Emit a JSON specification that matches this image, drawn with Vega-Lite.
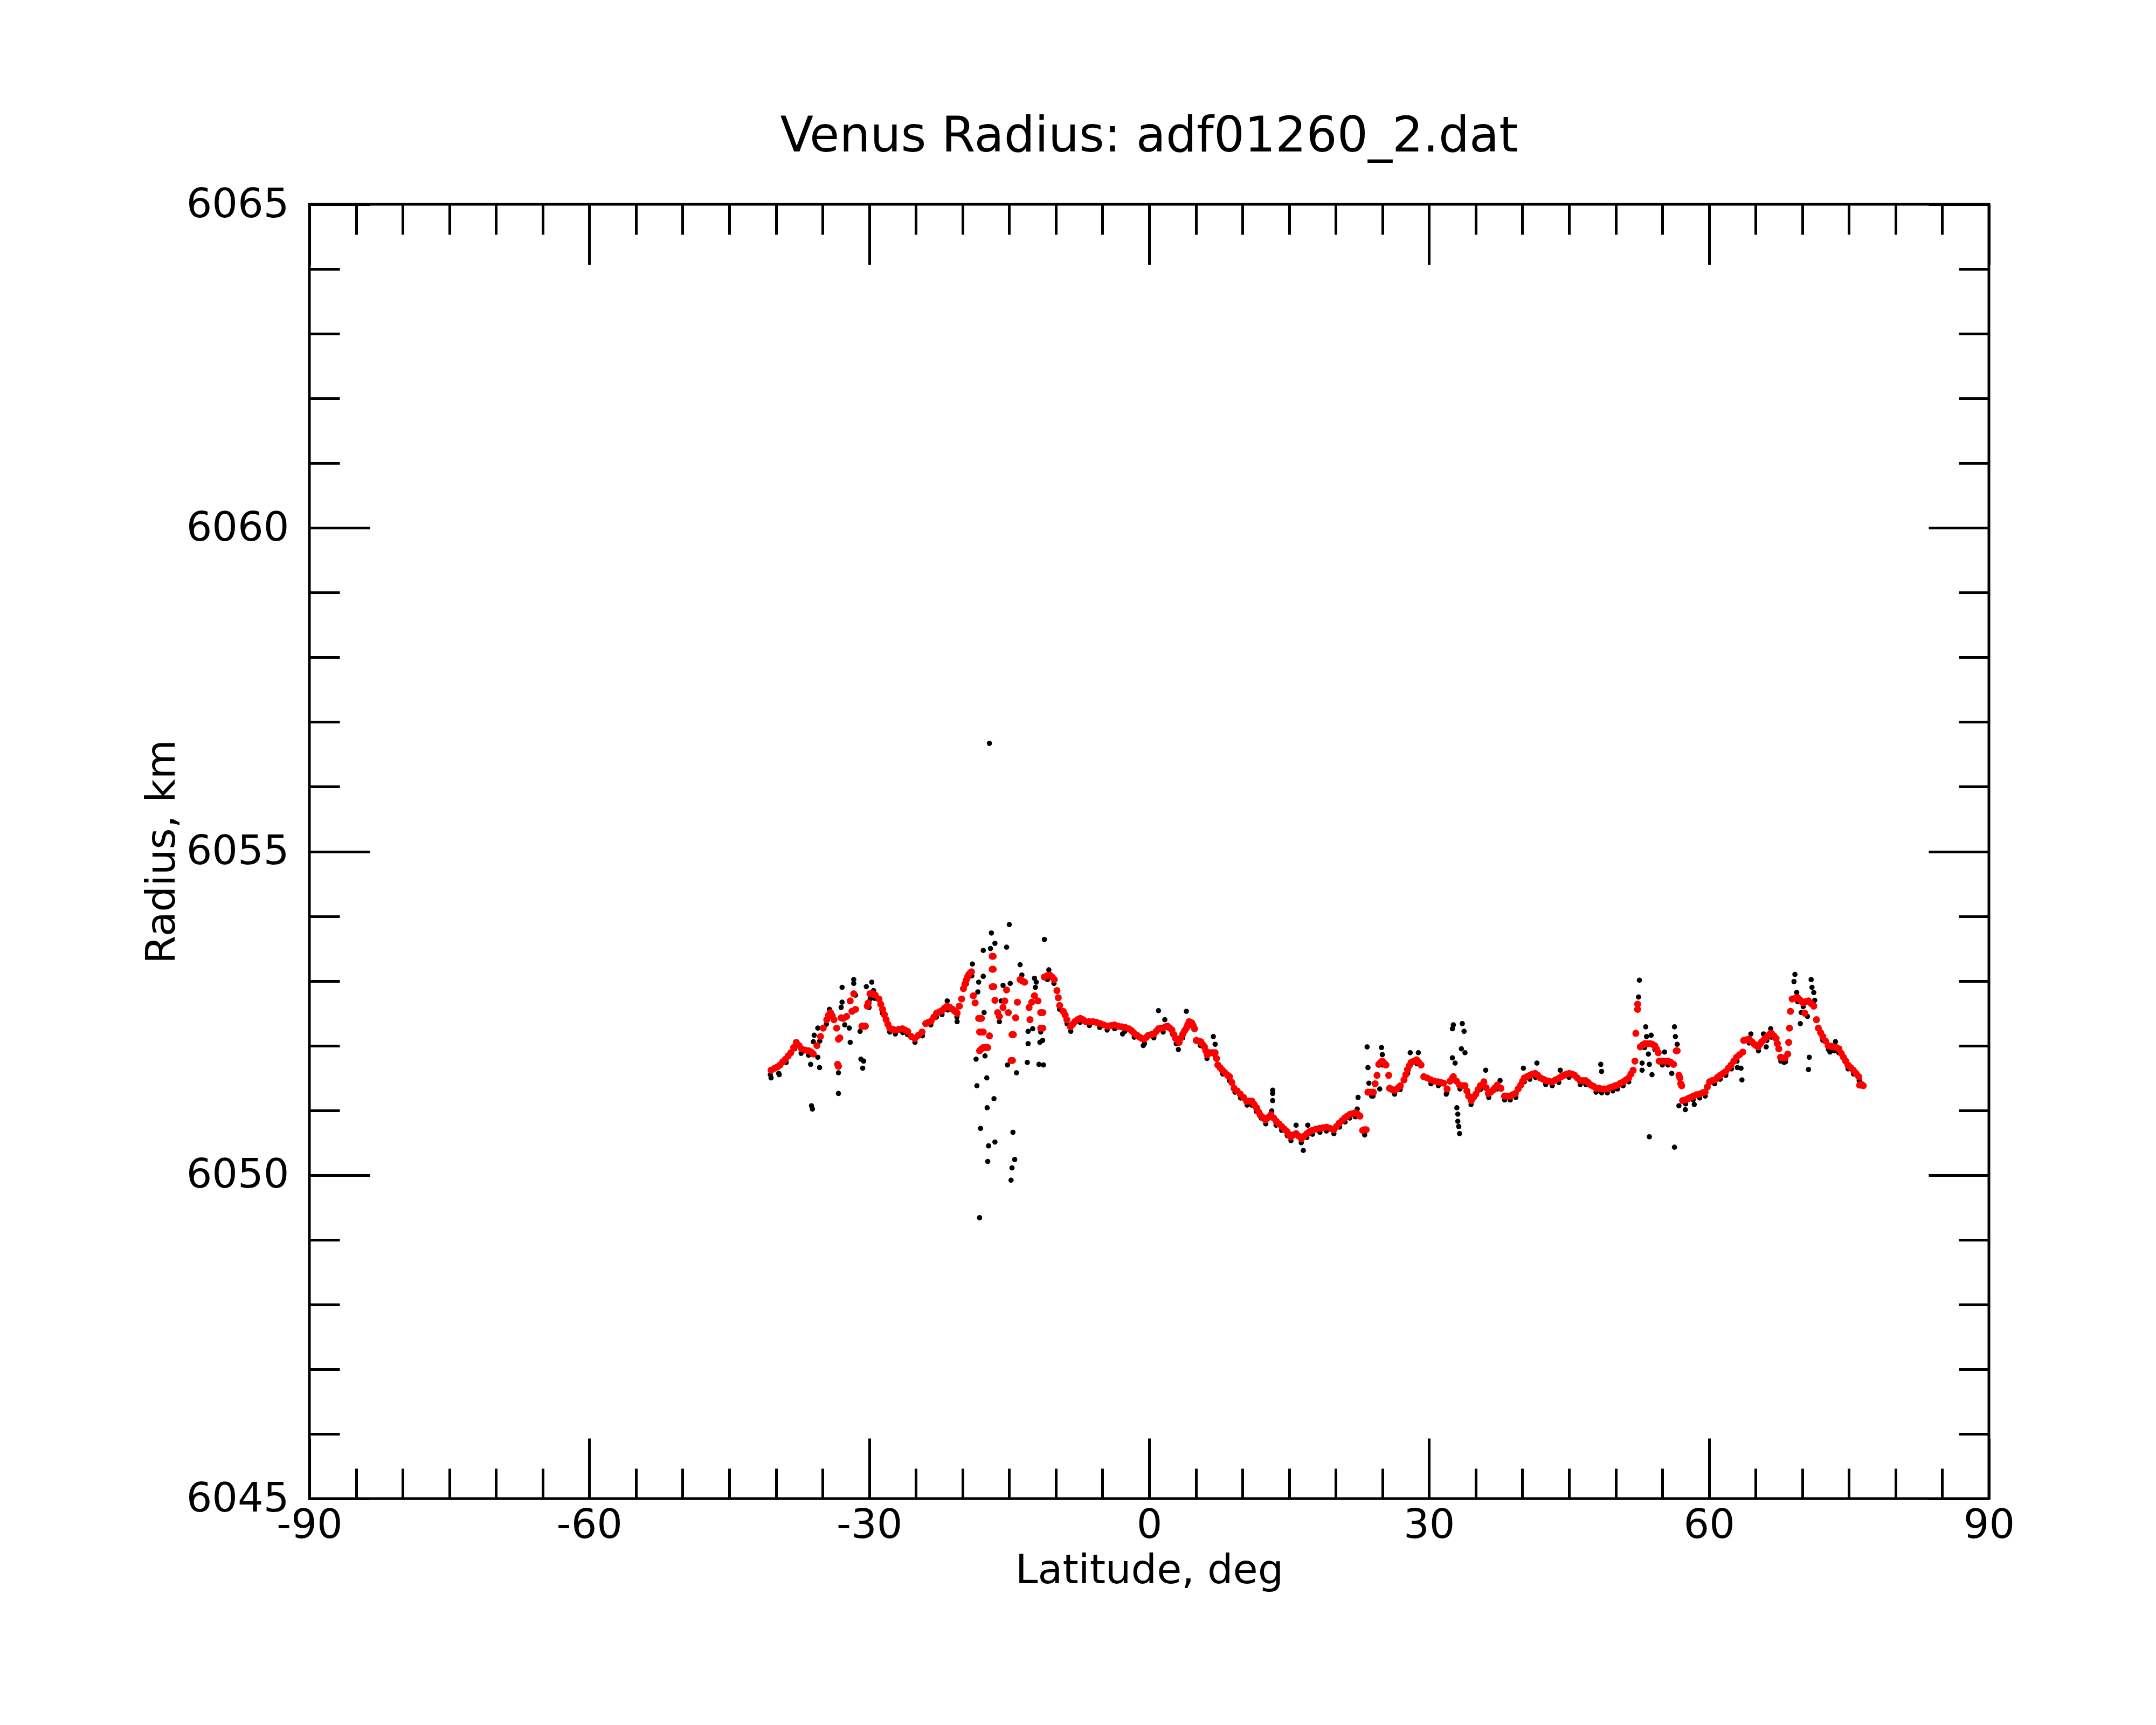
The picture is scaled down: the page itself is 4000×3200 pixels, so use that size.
{
"$schema": "https://vega.github.io/schema/vega-lite/v6.json",
"width": 3116,
"height": 2401,
"autosize": {"type": "none"},
"padding": {"left": 574, "top": 379, "right": 310, "bottom": 420},
"background": "white",
"title": {"text": "Venus Radius: adf01260_2.dat", "fontSize": 90, "font": "DejaVu Sans", "fontWeight": "normal", "color": "black", "offset": 42, "anchor": "middle"},
"config": {"view": {"stroke": "black", "strokeWidth": 5}},
"datasets": {
"red": [
{"lat":-40.52,"r":6051.62},{"lat":-40.14,"r":6051.65},{"lat":-39.85,"r":6051.67},{"lat":-39.56,"r":6051.7},{"lat":-39.27,"r":6051.75},{"lat":-38.98,"r":6051.79},{"lat":-38.69,"r":6051.84},{"lat":-38.4,"r":6051.89},{"lat":-38.1,"r":6051.97},{"lat":-37.82,"r":6052.05},{"lat":-37.53,"r":6052.0},{"lat":-37.25,"r":6051.95},{"lat":-36.86,"r":6051.93},{"lat":-36.48,"r":6051.92},{"lat":-36.2,"r":6051.9},{"lat":-35.99,"r":6051.87},{"lat":-35.61,"r":6052.0},{"lat":-35.22,"r":6052.14},{"lat":-34.93,"r":6052.27},{"lat":-34.55,"r":6052.4},{"lat":-34.35,"r":6052.47},{"lat":-34.16,"r":6052.51},{"lat":-33.97,"r":6052.46},{"lat":-33.78,"r":6052.4},{"lat":-33.49,"r":6052.27},{"lat":-33.3,"r":6052.1},{"lat":-33.15,"r":6052.12},{"lat":-33.39,"r":6051.71},{"lat":-33.3,"r":6051.68},{"lat":-33.0,"r":6052.43},{"lat":-32.8,"r":6052.42},{"lat":-32.43,"r":6052.45},{"lat":-32.04,"r":6052.69},{"lat":-31.85,"r":6052.53},{"lat":-31.66,"r":6052.8},{"lat":-31.47,"r":6052.56},{"lat":-30.79,"r":6052.3},{"lat":-30.6,"r":6052.3},{"lat":-30.41,"r":6052.3},{"lat":-30.21,"r":6052.61},{"lat":-30.1,"r":6052.66},{"lat":-29.92,"r":6052.8},{"lat":-29.63,"r":6052.8},{"lat":-29.35,"r":6052.78},{"lat":-28.96,"r":6052.72},{"lat":-28.77,"r":6052.64},{"lat":-28.57,"r":6052.56},{"lat":-28.38,"r":6052.48},{"lat":-28.19,"r":6052.4},{"lat":-28.0,"r":6052.33},{"lat":-27.8,"r":6052.27},{"lat":-27.5,"r":6052.25},{"lat":-27.23,"r":6052.24},{"lat":-26.84,"r":6052.25},{"lat":-26.45,"r":6052.26},{"lat":-26.16,"r":6052.24},{"lat":-25.88,"r":6052.22},{"lat":-25.49,"r":6052.14},{"lat":-25.11,"r":6052.11},{"lat":-24.72,"r":6052.16},{"lat":-24.34,"r":6052.21},{"lat":-23.95,"r":6052.34},{"lat":-23.66,"r":6052.36},{"lat":-23.37,"r":6052.38},{"lat":-23.08,"r":6052.44},{"lat":-22.79,"r":6052.5},{"lat":-22.5,"r":6052.52},{"lat":-22.22,"r":6052.54},{"lat":-21.93,"r":6052.58},{"lat":-21.64,"r":6052.61},{"lat":-21.35,"r":6052.59},{"lat":-21.06,"r":6052.56},{"lat":-20.8,"r":6052.53},{"lat":-20.58,"r":6052.5},{"lat":-20.34,"r":6052.61},{"lat":-20.1,"r":6052.72},{"lat":-19.9,"r":6052.88},{"lat":-19.75,"r":6052.95},{"lat":-19.61,"r":6053.01},{"lat":-19.46,"r":6053.06},{"lat":-19.32,"r":6053.1},{"lat":-19.15,"r":6053.13},{"lat":-19.04,"r":6053.14},
{"lat":-18.84,"r":6052.77},{"lat":-18.65,"r":6052.66},{"lat":-18.27,"r":6052.42},{"lat":-18.1,"r":6052.42},{"lat":-17.98,"r":6052.42},{"lat":-18.17,"r":6052.21},{"lat":-17.98,"r":6052.21},{"lat":-17.78,"r":6052.21},{"lat":-18.17,"r":6051.92},{"lat":-17.98,"r":6051.95},{"lat":-17.78,"r":6051.97},{"lat":-17.55,"r":6051.97},{"lat":-17.3,"r":6051.97},{"lat":-17.11,"r":6052.15},{"lat":-16.82,"r":6053.38},{"lat":-16.72,"r":6053.38},{"lat":-16.82,"r":6053.18},{"lat":-16.72,"r":6053.18},{"lat":-16.82,"r":6052.91},{"lat":-16.65,"r":6052.91},{"lat":-16.53,"r":6052.7},{"lat":-16.24,"r":6052.51},{"lat":-16.05,"r":6052.45},{"lat":-15.66,"r":6052.59},{"lat":-15.47,"r":6052.69},{"lat":-15.28,"r":6052.86},{"lat":-15.09,"r":6052.51},{"lat":-14.31,"r":6052.43},{"lat":-14.7,"r":6052.17},{"lat":-14.55,"r":6052.17},{"lat":-14.8,"r":6051.77},{"lat":-14.65,"r":6051.77},{"lat":-14.12,"r":6052.67},{"lat":-13.83,"r":6053.02},{"lat":-13.6,"r":6053.0},{"lat":-13.35,"r":6052.98},{"lat":-12.87,"r":6052.59},{"lat":-12.77,"r":6052.4},{"lat":-12.58,"r":6052.67},{"lat":-12.29,"r":6052.77},{"lat":-11.91,"r":6052.69},{"lat":-11.62,"r":6052.51},{"lat":-11.4,"r":6052.51},{"lat":-11.62,"r":6052.27},{"lat":-11.4,"r":6052.27},
{"lat":-11.23,"r":6053.06},{"lat":-10.94,"r":6053.08},{"lat":-10.65,"r":6053.09},{"lat":-10.4,"r":6053.06},{"lat":-10.17,"r":6053.02},{"lat":-9.88,"r":6052.85},{"lat":-9.74,"r":6052.74},{"lat":-9.59,"r":6052.62},{"lat":-9.21,"r":6052.53},{"lat":-9.0,"r":6052.47},{"lat":-8.82,"r":6052.4},{"lat":-8.44,"r":6052.29},{"lat":-8.2,"r":6052.33},{"lat":-7.96,"r":6052.37},{"lat":-7.67,"r":6052.4},{"lat":-7.38,"r":6052.42},{"lat":-7.09,"r":6052.4},{"lat":-6.8,"r":6052.37},{"lat":-6.42,"r":6052.37},{"lat":-6.03,"r":6052.37},{"lat":-5.65,"r":6052.36},{"lat":-5.26,"r":6052.34},{"lat":-4.88,"r":6052.32},{"lat":-4.49,"r":6052.3},{"lat":-4.1,"r":6052.31},{"lat":-3.72,"r":6052.32},{"lat":-3.33,"r":6052.3},{"lat":-2.95,"r":6052.29},{"lat":-2.56,"r":6052.28},{"lat":-2.17,"r":6052.26},{"lat":-1.88,"r":6052.23},{"lat":-1.6,"r":6052.19},{"lat":-1.31,"r":6052.16},{"lat":-1.02,"r":6052.13},{"lat":-0.78,"r":6052.11},{"lat":-0.54,"r":6052.1},{"lat":-0.3,"r":6052.13},{"lat":-0.06,"r":6052.16},{"lat":0.23,"r":6052.17},{"lat":0.52,"r":6052.18},{"lat":0.76,"r":6052.22},{"lat":1.0,"r":6052.26},{"lat":1.25,"r":6052.27},{"lat":1.49,"r":6052.27},{"lat":1.73,"r":6052.29},{"lat":1.97,"r":6052.3},{"lat":2.21,"r":6052.27},{"lat":2.45,"r":6052.24},{"lat":2.65,"r":6052.17},{"lat":2.84,"r":6052.11},{"lat":3.03,"r":6052.08},{"lat":3.22,"r":6052.05},{"lat":3.41,"r":6052.12},{"lat":3.61,"r":6052.18},{"lat":3.8,"r":6052.23},{"lat":3.99,"r":6052.27},{"lat":4.14,"r":6052.32},{"lat":4.28,"r":6052.37},{"lat":4.43,"r":6052.36},{"lat":4.57,"r":6052.35},{"lat":4.71,"r":6052.31},{"lat":4.86,"r":6052.26},{"lat":5.05,"r":6052.08},{"lat":5.29,"r":6052.07},{"lat":5.53,"r":6052.06},{"lat":5.72,"r":6052.02},{"lat":5.92,"r":6051.98},{"lat":6.07,"r":6051.92},{"lat":6.21,"r":6051.86},{"lat":6.4,"r":6051.88},{"lat":6.59,"r":6051.89},{"lat":6.83,"r":6051.89},{"lat":7.07,"r":6051.89},{"lat":7.22,"r":6051.8},{"lat":7.36,"r":6051.7},{"lat":7.6,"r":6051.66},{"lat":7.85,"r":6051.62},{"lat":8.13,"r":6051.58},{"lat":8.42,"r":6051.54},{"lat":8.62,"r":6051.52},{"lat":8.86,"r":6051.43},{"lat":9.1,"r":6051.34},{"lat":9.43,"r":6051.3},{"lat":9.77,"r":6051.25},{"lat":10.11,"r":6051.2},{"lat":10.45,"r":6051.14},{"lat":10.73,"r":6051.14},{"lat":11.02,"r":6051.14},{"lat":11.26,"r":6051.09},{"lat":11.51,"r":6051.04},{"lat":11.7,"r":6050.98},{"lat":11.89,"r":6050.93},{"lat":12.18,"r":6050.89},{"lat":12.47,"r":6050.85},{"lat":12.76,"r":6050.89},{"lat":13.05,"r":6050.93},{"lat":13.34,"r":6050.88},{"lat":13.63,"r":6050.83},{"lat":13.92,"r":6050.79},{"lat":14.2,"r":6050.75},{"lat":14.49,"r":6050.71},{"lat":14.78,"r":6050.67},{"lat":14.97,"r":6050.63},{"lat":15.17,"r":6050.59},{"lat":15.46,"r":6050.62},{"lat":15.75,"r":6050.64},{"lat":16.04,"r":6050.6},{"lat":16.32,"r":6050.56},{"lat":16.61,"r":6050.6},{"lat":16.9,"r":6050.64},{"lat":17.19,"r":6050.67},{"lat":17.48,"r":6050.69},{"lat":17.87,"r":6050.71},{"lat":18.25,"r":6050.72},{"lat":18.64,"r":6050.73},{"lat":19.02,"r":6050.74},{"lat":19.41,"r":6050.72},{"lat":19.79,"r":6050.7},{"lat":20.08,"r":6050.75},{"lat":20.37,"r":6050.8},{"lat":20.66,"r":6050.84},{"lat":20.95,"r":6050.88},{"lat":21.24,"r":6050.91},{"lat":21.53,"r":6050.94},{"lat":21.82,"r":6050.95},{"lat":22.1,"r":6050.96},{"lat":22.35,"r":6050.94},{"lat":22.59,"r":6050.91},{"lat":22.88,"r":6050.69},{"lat":23.07,"r":6050.7},{"lat":23.26,"r":6050.7},{"lat":23.45,"r":6051.28},{"lat":23.74,"r":6051.28},{"lat":24.03,"r":6051.28},{"lat":24.22,"r":6051.41},{"lat":24.42,"r":6051.54},{"lat":24.61,"r":6051.71},{"lat":24.8,"r":6051.74},{"lat":24.99,"r":6051.76},{"lat":25.19,"r":6051.73},{"lat":25.38,"r":6051.7},{"lat":25.67,"r":6051.54},{"lat":25.77,"r":6051.34},{"lat":26.05,"r":6051.32},{"lat":26.34,"r":6051.31},{"lat":26.63,"r":6051.34},{"lat":26.92,"r":6051.38},{"lat":27.31,"r":6051.47},{"lat":27.5,"r":6051.55},{"lat":27.69,"r":6051.63},{"lat":27.88,"r":6051.69},{"lat":28.08,"r":6051.74},{"lat":28.37,"r":6051.76},{"lat":28.66,"r":6051.78},{"lat":28.9,"r":6051.74},{"lat":29.14,"r":6051.7},{"lat":29.43,"r":6051.52},{"lat":29.8,"r":6051.5},{"lat":30.2,"r":6051.47},{"lat":30.58,"r":6051.45},{"lat":30.97,"r":6051.44},{"lat":31.26,"r":6051.43},{"lat":31.55,"r":6051.42},{"lat":31.93,"r":6051.33},{"lat":32.25,"r":6051.45},{"lat":32.51,"r":6051.5},{"lat":32.6,"r":6051.52},{"lat":32.94,"r":6051.45},{"lat":33.27,"r":6051.39},{"lat":33.56,"r":6051.38},{"lat":33.85,"r":6051.38},{"lat":34.05,"r":6051.3},{"lat":34.24,"r":6051.22},{"lat":34.52,"r":6051.15},{"lat":34.77,"r":6051.2},{"lat":35.01,"r":6051.25},{"lat":35.25,"r":6051.32},{"lat":35.49,"r":6051.38},{"lat":35.87,"r":6051.44},{"lat":36.11,"r":6051.35},{"lat":36.35,"r":6051.26},{"lat":36.6,"r":6051.28},{"lat":36.84,"r":6051.31},{"lat":37.08,"r":6051.35},{"lat":37.32,"r":6051.39},{"lat":37.7,"r":6051.34},{"lat":38.09,"r":6051.22},{"lat":38.38,"r":6051.22},{"lat":38.67,"r":6051.22},{"lat":38.96,"r":6051.24},{"lat":39.25,"r":6051.26},{"lat":39.54,"r":6051.33},{"lat":39.82,"r":6051.39},{"lat":40.02,"r":6051.45},{"lat":40.21,"r":6051.5},{"lat":40.5,"r":6051.52},{"lat":40.79,"r":6051.54},{"lat":41.08,"r":6051.56},{"lat":41.37,"r":6051.57},{"lat":41.65,"r":6051.54},{"lat":41.94,"r":6051.5},{"lat":42.23,"r":6051.48},{"lat":42.52,"r":6051.46},{"lat":42.86,"r":6051.45},{"lat":43.2,"r":6051.44},{"lat":43.54,"r":6051.47},{"lat":43.87,"r":6051.49},{"lat":44.16,"r":6051.52},{"lat":44.45,"r":6051.54},{"lat":44.74,"r":6051.56},{"lat":45.03,"r":6051.57},{"lat":45.32,"r":6051.56},{"lat":45.6,"r":6051.54},{"lat":45.89,"r":6051.5},{"lat":46.18,"r":6051.46},{"lat":46.47,"r":6051.46},{"lat":46.76,"r":6051.46},{"lat":47.05,"r":6051.43},{"lat":47.34,"r":6051.39},{"lat":47.63,"r":6051.37},{"lat":47.92,"r":6051.34},{"lat":48.2,"r":6051.34},{"lat":48.49,"r":6051.33},{"lat":48.78,"r":6051.33},{"lat":49.07,"r":6051.33},{"lat":49.36,"r":6051.35},{"lat":49.65,"r":6051.36},{"lat":49.94,"r":6051.38},{"lat":50.23,"r":6051.39},{"lat":50.52,"r":6051.42},{"lat":50.81,"r":6051.44},{"lat":51.1,"r":6051.47},{"lat":51.39,"r":6051.5},{"lat":51.63,"r":6051.56},{"lat":51.87,"r":6051.62},{"lat":52.06,"r":6051.76},{"lat":52.16,"r":6052.19},{"lat":52.35,"r":6052.56},{"lat":52.35,"r":6052.64},{"lat":52.64,"r":6051.98},{"lat":52.88,"r":6052.01},{"lat":53.12,"r":6052.03},{"lat":53.41,"r":6052.03},{"lat":53.7,"r":6052.03},{"lat":53.94,"r":6052.02},{"lat":54.18,"r":6052.0},{"lat":54.37,"r":6051.95},{"lat":54.56,"r":6051.89},{"lat":54.66,"r":6051.76},{"lat":54.85,"r":6051.76},{"lat":55.05,"r":6051.76},{"lat":55.33,"r":6051.76},{"lat":55.62,"r":6051.76},{"lat":55.91,"r":6051.74},{"lat":56.2,"r":6051.71},{"lat":56.49,"r":6051.92},{"lat":56.59,"r":6051.92},{"lat":56.78,"r":6051.54},{"lat":56.88,"r":6051.5},{"lat":56.97,"r":6051.41},{"lat":57.07,"r":6051.38},{"lat":57.17,"r":6051.15},{"lat":57.45,"r":6051.16},{"lat":57.74,"r":6051.18},{"lat":58.03,"r":6051.2},{"lat":58.32,"r":6051.22},{"lat":58.66,"r":6051.24},{"lat":59.0,"r":6051.25},{"lat":59.29,"r":6051.27},{"lat":59.58,"r":6051.28},{"lat":59.82,"r":6051.36},{"lat":60.06,"r":6051.44},{"lat":60.35,"r":6051.46},{"lat":60.63,"r":6051.47},{"lat":60.92,"r":6051.51},{"lat":61.21,"r":6051.54},{"lat":61.5,"r":6051.57},{"lat":61.79,"r":6051.6},{"lat":62.08,"r":6051.65},{"lat":62.37,"r":6051.7},{"lat":62.66,"r":6051.76},{"lat":62.95,"r":6051.82},{"lat":63.28,"r":6051.86},{"lat":63.62,"r":6051.9},{"lat":63.72,"r":6052.08},{"lat":64.01,"r":6052.09},{"lat":64.3,"r":6052.1},{"lat":64.59,"r":6052.06},{"lat":64.87,"r":6052.02},{"lat":65.07,"r":6052.0},{"lat":65.26,"r":6051.98},{"lat":65.45,"r":6052.02},{"lat":65.65,"r":6052.06},{"lat":65.94,"r":6052.1},{"lat":66.22,"r":6052.14},{"lat":66.46,"r":6052.17},{"lat":66.7,"r":6052.19},{"lat":66.95,"r":6052.15},{"lat":67.19,"r":6052.11},{"lat":67.33,"r":6052.03},{"lat":67.48,"r":6051.95},{"lat":67.67,"r":6051.82},{"lat":67.91,"r":6051.81},{"lat":68.15,"r":6051.81},{"lat":68.44,"r":6051.87},{"lat":68.54,"r":6052.05},{"lat":68.63,"r":6052.27},{"lat":68.73,"r":6052.53},{"lat":68.92,"r":6052.72},{"lat":69.21,"r":6052.73},{"lat":69.5,"r":6052.74},{"lat":69.79,"r":6052.7},{"lat":70.08,"r":6052.66},{"lat":70.27,"r":6052.5},{"lat":70.37,"r":6052.68},{"lat":70.66,"r":6052.69},{"lat":70.95,"r":6052.65},{"lat":71.23,"r":6052.61},{"lat":71.52,"r":6052.4},{"lat":71.72,"r":6052.27},{"lat":71.96,"r":6052.2},{"lat":72.2,"r":6052.14},{"lat":72.49,"r":6052.07},{"lat":72.77,"r":6052.0},{"lat":73.06,"r":6051.99},{"lat":73.35,"r":6051.98},{"lat":73.64,"r":6051.97},{"lat":73.93,"r":6051.95},{"lat":74.17,"r":6051.88},{"lat":74.41,"r":6051.82},{"lat":74.65,"r":6051.76},{"lat":74.89,"r":6051.7},{"lat":75.18,"r":6051.66},{"lat":75.47,"r":6051.62},{"lat":75.76,"r":6051.57},{"lat":76.05,"r":6051.52},{"lat":76.15,"r":6051.39},{"lat":76.35,"r":6051.4},{"lat":76.53,"r":6051.38}
],
"black": [
{"lat":-40.6,"r":6051.55},{"lat":-39.7,"r":6051.57},{"lat":-38.9,"r":6051.74},{"lat":-38.0,"r":6051.95},{"lat":-37.3,"r":6051.88},{"lat":-36.5,"r":6051.85},{"lat":-35.3,"r":6052.07},{"lat":-34.6,"r":6052.33},{"lat":-34.2,"r":6052.45},{"lat":-29.9,"r":6052.72},{"lat":-29.4,"r":6052.73},{"lat":-28.6,"r":6052.5},{"lat":-27.8,"r":6052.21},{"lat":-27.2,"r":6052.18},{"lat":-26.4,"r":6052.2},{"lat":-25.9,"r":6052.17},{"lat":-25.1,"r":6052.05},{"lat":-24.3,"r":6052.15},{"lat":-23.4,"r":6052.32},{"lat":-22.8,"r":6052.44},{"lat":-22.2,"r":6052.48},{"lat":-21.6,"r":6052.55},{"lat":-20.6,"r":6052.44},{"lat":-19.6,"r":6052.95},{"lat":-19.0,"r":6053.08},
{"lat":-10.9,"r":6053.02},{"lat":-10.2,"r":6052.96},{"lat":-9.6,"r":6052.56},{"lat":-8.8,"r":6052.34},{"lat":-8.4,"r":6052.22},{"lat":-7.4,"r":6052.36},{"lat":-6.4,"r":6052.31},{"lat":-5.3,"r":6052.28},{"lat":-4.5,"r":6052.24},{"lat":-3.7,"r":6052.26},{"lat":-2.6,"r":6052.22},{"lat":-1.6,"r":6052.13},{"lat":-0.5,"r":6052.03},{"lat":0.5,"r":6052.12},{"lat":1.5,"r":6052.21},{"lat":2.5,"r":6052.18},{"lat":2.9,"r":6052.03},{"lat":3.6,"r":6052.12},{"lat":4.3,"r":6052.31},{"lat":5.5,"r":6052.0},{"lat":6.2,"r":6051.8},{"lat":7.1,"r":6051.83},{"lat":7.9,"r":6051.56},{"lat":8.6,"r":6051.46},{"lat":9.2,"r":6051.28},{"lat":9.8,"r":6051.19},{"lat":10.5,"r":6051.08},{"lat":11.0,"r":6051.08},{"lat":11.5,"r":6050.98},{"lat":12.0,"r":6050.88},{"lat":12.5,"r":6050.79},{"lat":13.6,"r":6050.77},{"lat":14.2,"r":6050.69},{"lat":14.8,"r":6050.61},{"lat":15.2,"r":6050.53},{"lat":16.3,"r":6050.5},{"lat":16.9,"r":6050.58},{"lat":17.5,"r":6050.63},{"lat":18.3,"r":6050.66},{"lat":19.0,"r":6050.68},{"lat":19.8,"r":6050.64},{"lat":20.4,"r":6050.74},{"lat":21.0,"r":6050.82},{"lat":21.5,"r":6050.88},{"lat":22.1,"r":6050.9},{"lat":23.1,"r":6050.62},{"lat":24.0,"r":6051.22},{"lat":25.0,"r":6051.7},{"lat":26.3,"r":6051.25},{"lat":26.9,"r":6051.32},{"lat":27.7,"r":6051.57},{"lat":28.7,"r":6051.72},{"lat":30.2,"r":6051.41},{"lat":31.0,"r":6051.38},{"lat":31.9,"r":6051.27},{"lat":33.3,"r":6051.33},{"lat":34.5,"r":6051.09},{"lat":35.5,"r":6051.32},{"lat":36.4,"r":6051.2},{"lat":37.3,"r":6051.33},{"lat":38.1,"r":6051.16},{"lat":38.7,"r":6051.16},{"lat":39.3,"r":6051.2},{"lat":40.2,"r":6051.44},{"lat":40.8,"r":6051.48},{"lat":41.4,"r":6051.51},{"lat":42.5,"r":6051.4},{"lat":43.2,"r":6051.38},{"lat":43.9,"r":6051.43},{"lat":45.0,"r":6051.51},{"lat":46.2,"r":6051.4},{"lat":46.8,"r":6051.4},{"lat":47.9,"r":6051.28},{"lat":48.5,"r":6051.27},{"lat":49.1,"r":6051.27},{"lat":49.7,"r":6051.3},{"lat":50.2,"r":6051.33},{"lat":50.8,"r":6051.38},{"lat":51.4,"r":6051.44},{"lat":53.1,"r":6051.97},{"lat":54.2,"r":6051.94},{"lat":55.0,"r":6051.7},{"lat":55.6,"r":6051.7},{"lat":57.5,"r":6051.1},{"lat":58.3,"r":6051.16},{"lat":59.0,"r":6051.19},{"lat":59.6,"r":6051.22},{"lat":60.6,"r":6051.41},{"lat":61.2,"r":6051.48},{"lat":61.8,"r":6051.54},{"lat":62.4,"r":6051.64},{"lat":63.0,"r":6051.76},{"lat":64.3,"r":6052.04},{"lat":65.3,"r":6051.92},{"lat":66.2,"r":6052.08},{"lat":66.7,"r":6052.13},{"lat":67.7,"r":6051.76},{"lat":68.2,"r":6051.75},{"lat":69.5,"r":6052.68},{"lat":70.1,"r":6052.6},{"lat":72.2,"r":6052.08},{"lat":72.8,"r":6051.94},{"lat":73.4,"r":6051.92},{"lat":73.9,"r":6051.89},{"lat":74.9,"r":6051.64},{"lat":75.5,"r":6051.56},{"lat":76.1,"r":6051.46},
{"lat":-40.52,"r":6051.5},{"lat":-39.65,"r":6051.55},{"lat":-36.28,"r":6051.71},{"lat":-35.32,"r":6051.66},{"lat":-35.51,"r":6051.82},{"lat":-35.9,"r":6052.16},{"lat":-35.99,"r":6052.06},{"lat":-35.51,"r":6052.27},{"lat":-36.19,"r":6051.07},{"lat":-36.09,"r":6051.02},{"lat":-33.3,"r":6051.26},{"lat":-33.3,"r":6051.58},{"lat":-32.91,"r":6052.9},{"lat":-32.91,"r":6052.67},{"lat":-33.01,"r":6052.59},{"lat":-34.26,"r":6052.56},{"lat":-32.62,"r":6052.32},{"lat":-32.14,"r":6052.27},{"lat":-32.04,"r":6052.05},{"lat":-31.66,"r":6053.02},{"lat":-31.66,"r":6052.96},{"lat":-31.47,"r":6052.78},{"lat":-30.98,"r":6052.22},{"lat":-30.89,"r":6051.79},{"lat":-30.7,"r":6051.65},{"lat":-30.6,"r":6051.76},{"lat":-30.31,"r":6052.91},{"lat":-29.73,"r":6052.98},{"lat":-30.02,"r":6052.59},{"lat":-29.54,"r":6052.85},{"lat":-21.64,"r":6052.69},{"lat":-20.58,"r":6052.37},{"lat":-18.94,"r":6053.26},{"lat":-17.78,"r":6053.47},{"lat":-16.91,"r":6053.74},{"lat":-16.53,"r":6053.58},{"lat":-17.01,"r":6053.5},{"lat":-17.78,"r":6053.07},{"lat":-18.27,"r":6052.98},{"lat":-18.36,"r":6052.83},{"lat":-17.69,"r":6052.51},{"lat":-18.55,"r":6051.79},{"lat":-17.59,"r":6051.84},{"lat":-17.4,"r":6051.5},{"lat":-18.46,"r":6051.38},{"lat":-16.63,"r":6051.18},{"lat":-17.36,"r":6051.04},{"lat":-18.07,"r":6050.72},{"lat":-17.21,"r":6050.45},{"lat":-16.53,"r":6050.51},{"lat":-17.3,"r":6050.21},{"lat":-18.17,"r":6049.34},{"lat":-16.05,"r":6052.37},{"lat":-15.86,"r":6052.69},{"lat":-17.12,"r":6056.67},
{"lat":-14.99,"r":6053.87},{"lat":-15.28,"r":6053.52},{"lat":-11.23,"r":6053.64},{"lat":-13.83,"r":6053.25},{"lat":-13.64,"r":6053.09},{"lat":-12.29,"r":6053.04},{"lat":-12.1,"r":6052.98},{"lat":-12.19,"r":6052.9},{"lat":-14.89,"r":6052.96},{"lat":-15.66,"r":6052.93},{"lat":-12.48,"r":6052.26},{"lat":-12.97,"r":6052.22},{"lat":-12.97,"r":6052.03},{"lat":-11.62,"r":6052.21},{"lat":-11.71,"r":6052.05},{"lat":-11.42,"r":6052.08},{"lat":-15.18,"r":6051.7},{"lat":-14.22,"r":6051.58},{"lat":-13.06,"r":6051.74},{"lat":-11.81,"r":6051.71},{"lat":-11.33,"r":6051.7},{"lat":-14.6,"r":6050.66},{"lat":-14.41,"r":6050.24},{"lat":-14.7,"r":6050.11},{"lat":-14.8,"r":6049.92},{"lat":-10.75,"r":6053.17},{"lat":1.0,"r":6052.54},{"lat":1.68,"r":6052.4},{"lat":3.99,"r":6052.53},{"lat":6.88,"r":6052.14},{"lat":7.07,"r":6052.02},{"lat":-0.63,"r":6052.0},{"lat":-2.85,"r":6052.18},{"lat":3.13,"r":6051.94},
{"lat":13.24,"r":6051.31},{"lat":13.24,"r":6051.26},{"lat":13.24,"r":6051.15},{"lat":13.14,"r":6050.99},{"lat":15.75,"r":6050.77},{"lat":16.52,"r":6050.38},{"lat":17.0,"r":6050.77},{"lat":22.39,"r":6051.2},{"lat":22.3,"r":6051.02},{"lat":23.36,"r":6051.98},{"lat":23.45,"r":6051.66},{"lat":23.55,"r":6051.42},{"lat":24.9,"r":6051.97},{"lat":24.99,"r":6051.86},{"lat":24.71,"r":6051.33},{"lat":23.84,"r":6051.22},{"lat":27.98,"r":6051.89},{"lat":28.85,"r":6051.89},{"lat":31.84,"r":6051.25},
{"lat":32.6,"r":6052.32},{"lat":33.56,"r":6052.34},{"lat":33.75,"r":6052.22},{"lat":32.5,"r":6052.26},{"lat":33.46,"r":6051.95},{"lat":33.85,"r":6051.89},{"lat":32.5,"r":6051.81},{"lat":32.79,"r":6051.73},{"lat":32.98,"r":6051.04},{"lat":33.08,"r":6050.94},{"lat":33.08,"r":6050.83},{"lat":33.18,"r":6050.75},{"lat":33.27,"r":6050.64},{"lat":36.07,"r":6051.62},{"lat":37.61,"r":6051.46},{"lat":40.11,"r":6051.65},{"lat":41.56,"r":6051.73},{"lat":44.06,"r":6051.62},{"lat":48.4,"r":6051.71},{"lat":48.49,"r":6051.6},{"lat":52.54,"r":6053.01},{"lat":52.45,"r":6052.75},{"lat":53.22,"r":6052.29},{"lat":53.8,"r":6052.16},{"lat":53.31,"r":6052.14},{"lat":52.83,"r":6051.73},{"lat":52.83,"r":6051.62},{"lat":53.51,"r":6051.87},{"lat":53.61,"r":6051.71},{"lat":53.89,"r":6051.55},{"lat":53.61,"r":6050.59},{"lat":56.3,"r":6052.29},{"lat":56.4,"r":6052.14},{"lat":56.59,"r":6052.02},{"lat":56.3,"r":6050.43},{"lat":56.78,"r":6051.07},{"lat":55.24,"r":6051.9},{"lat":56.01,"r":6051.57},
{"lat":57.46,"r":6051.01},{"lat":58.42,"r":6051.09},{"lat":63.04,"r":6051.66},{"lat":63.53,"r":6051.47},{"lat":63.43,"r":6051.65},{"lat":64.49,"r":6052.18},{"lat":65.84,"r":6052.18},{"lat":66.61,"r":6052.26},{"lat":66.13,"r":6051.98},{"lat":68.05,"r":6051.74},{"lat":69.21,"r":6053.1},{"lat":69.11,"r":6052.99},{"lat":69.4,"r":6052.82},{"lat":70.95,"r":6053.02},{"lat":71.04,"r":6052.9},{"lat":71.23,"r":6052.82},{"lat":71.33,"r":6052.7},{"lat":69.88,"r":6052.51},{"lat":69.79,"r":6052.34},{"lat":70.56,"r":6052.45},{"lat":70.75,"r":6051.82},{"lat":70.66,"r":6051.63},{"lat":73.55,"r":6052.06},{"lat":72.97,"r":6051.9}
]
},
"layer": [
{
"data": {"name": "black"},
"mark": {"type": "circle", "size": 95, "color": "#000000", "opacity": 1},
"encoding": {
"x": {"field": "lat", "type": "quantitative", "scale": {"domain": [-90, 90], "nice": false, "zero": false},
"axis": {"orient": "bottom", "values": [-90,-85,-80,-75,-70,-65,-60,-55,-50,-45,-40,-35,-30,-25,-20,-15,-10,-5,0,5,10,15,20,25,30,35,40,45,50,55,60,65,70,75,80,85,90],
"tickSize": {"condition": {"test": "datum.value % 30 === 0", "value": -112}, "value": -56},
"tickWidth": 5, "tickColor": "black", "domain": false, "grid": false,
"labelExpr": "datum.value % 30 === 0 ? '' + datum.value : ''",
"labelFont": "DejaVu Sans", "labelFontSize": 75, "labelColor": "black", "labelPadding": 125, "labelOverlap": false, "labelFlush": false, "labelLimit": 0,
"title": "Latitude, deg", "titleFont": "DejaVu Sans", "titleFontSize": 75, "titleFontWeight": "normal", "titleColor": "black", "titlePadding": -46}},
"y": {"field": "r", "type": "quantitative", "scale": {"domain": [6045, 6065], "nice": false, "zero": false},
"axis": {"orient": "left", "values": [6045,6046,6047,6048,6049,6050,6051,6052,6053,6054,6055,6056,6057,6058,6059,6060,6061,6062,6063,6064,6065],
"tickSize": {"condition": {"test": "datum.value % 5 === 0", "value": -112}, "value": -56},
"tickWidth": 5, "tickColor": "black", "domain": false, "grid": false,
"labelExpr": "datum.value % 5 === 0 ? '' + datum.value : ''",
"labelFont": "DejaVu Sans", "labelFontSize": 75, "labelColor": "black", "labelPadding": 150, "labelOverlap": false, "labelFlush": false, "labelLimit": 0,
"title": "Radius, km", "titleFont": "DejaVu Sans", "titleFontSize": 75, "titleFontWeight": "normal", "titleColor": "black", "titlePadding": 35}}
}
},
{
"data": {"name": "red"},
"mark": {"type": "circle", "size": 170, "color": "#ff0000", "opacity": 1},
"encoding": {
"x": {"field": "lat", "type": "quantitative", "scale": {"domain": [-90, 90], "nice": false, "zero": false},
"axis": {"orient": "top", "values": [-90,-85,-80,-75,-70,-65,-60,-55,-50,-45,-40,-35,-30,-25,-20,-15,-10,-5,0,5,10,15,20,25,30,35,40,45,50,55,60,65,70,75,80,85,90],
"tickSize": {"condition": {"test": "datum.value % 30 === 0", "value": -112}, "value": -56},
"tickWidth": 5, "tickColor": "black", "domain": false, "grid": false, "labels": false, "title": null}},
"y": {"field": "r", "type": "quantitative", "scale": {"domain": [6045, 6065], "nice": false, "zero": false},
"axis": {"orient": "right", "values": [6045,6046,6047,6048,6049,6050,6051,6052,6053,6054,6055,6056,6057,6058,6059,6060,6061,6062,6063,6064,6065],
"tickSize": {"condition": {"test": "datum.value % 5 === 0", "value": -112}, "value": -56},
"tickWidth": 5, "tickColor": "black", "domain": false, "grid": false, "labels": false, "title": null}}
}
}
],
"resolve": {"axis": {"x": "independent", "y": "independent"}}
}
